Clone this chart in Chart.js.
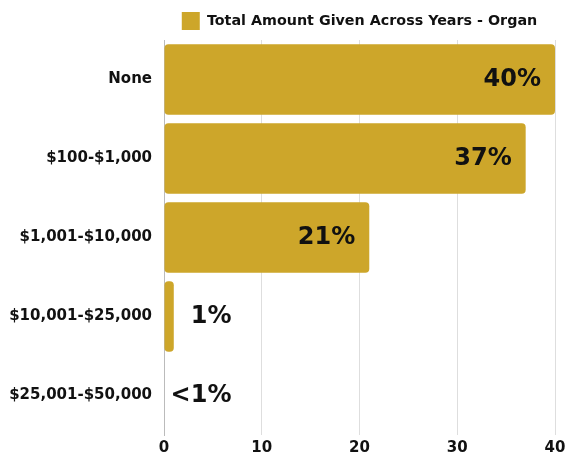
<!DOCTYPE html>
<html>
<head>
<meta charset="utf-8">
<script src="https://cdn.jsdelivr.net/npm/chart.js@4.4.1/dist/chart.umd.min.js"></script>
<style>
  html, body { margin: 0; padding: 0; background: #fff; }
  #wrap { width: 565px; height: 457px; position: relative; }
</style>
</head>
<body>
<div id="wrap"><canvas id="chart"></canvas></div>
<script>
  /* ── Data ─────────────────────────────────────────── */
  const CATEGORIES = ["None", "$100-$1,000", "$1,001-$10,000", "$10,001-$25,000", "$25,001-$50,000"];
  const VALUES = [40, 37, 21, 1, 0];
  const VALUE_LABELS = ["40%", "37%", "21%", "1%", "<1%"];
  const X_TICKS = [0, 10, 20, 30, 40];
  const SERIES_NAME = "Total Amount Given Across Years - Organ";

  const GOLD = "#CDA62A";
  const FONT = "'DejaVu Sans', sans-serif";

  /* value labels: right-aligned near bar end, pushed out for small bars */
  const valueLabels = {
    id: "valueLabels",
    afterDatasetsDraw(chart) {
      const { ctx, scales } = chart;
      const meta = chart.getDatasetMeta(0);
      ctx.save();
      ctx.font = "bold 24px " + FONT;
      ctx.fillStyle = "#111";
      ctx.textAlign = "right";
      ctx.textBaseline = "middle";
      meta.data.forEach((bar, i) => {
        const v = VALUES[i];
        let x = v >= 5 ? bar.x - 14 : scales.x.getPixelForValue(6.9);
        ctx.fillText(VALUE_LABELS[i], x, bar.y);
      });
      ctx.restore();
    }
  };

  new Chart(document.getElementById("chart"), {
    type: "bar",
    data: {
      labels: CATEGORIES,
      datasets: [{
        label: SERIES_NAME,
        data: VALUES,
        backgroundColor: GOLD,
        borderRadius: 4,
        borderSkipped: false,
        barPercentage: 0.92,
        categoryPercentage: 0.97
      }]
    },
    options: {
      indexAxis: "y",
      responsive: true,
      maintainAspectRatio: false,
      animation: false,
      layout: { padding: { top: 2, right: 10, left: 0, bottom: 0 } },
      plugins: {
        legend: {
          position: "top",
          fullSize: false,
          labels: {
            boxWidth: 18,
            boxHeight: 18,
            color: "#111",
            font: { family: FONT, size: 14.3, weight: "bold" },
            padding: 10
          }
        },
        tooltip: { enabled: false }
      },
      scales: {
        x: {
          min: 0, max: 40,
          afterBuildTicks: s => { s.ticks = X_TICKS.map(v => ({ value: v })); },
          afterFit: s => { s.paddingRight = 0; s.paddingLeft = 0; s.height = 22; },
          grid: { color: "#dedede", drawTicks: false },
          border: { display: false },
          ticks: { color: "#111", font: { family: FONT, size: 15, weight: "bold" }, padding: 4 }
        },
        y: {
          afterFit: s => { s.width = 164; },
          grid: { display: false },
          border: { display: true, color: "#bbb" },
          ticks: { color: "#111", font: { family: FONT, size: 15, weight: "bold" }, padding: 4 }
        }
      }
    },
    plugins: [valueLabels]
  });
</script>
</body>
</html>
